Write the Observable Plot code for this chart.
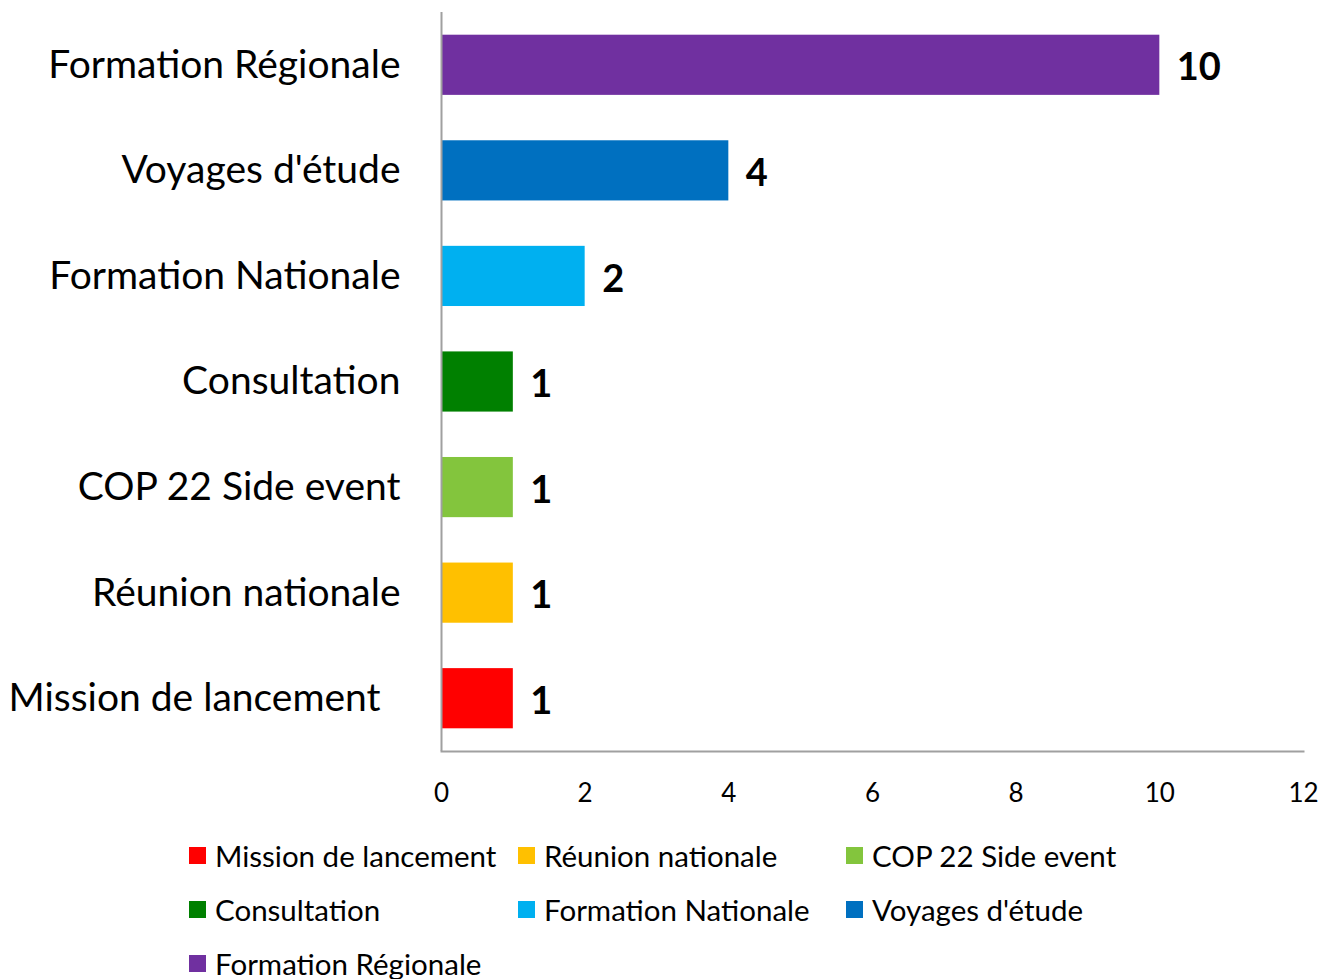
<!DOCTYPE html>
<html>
<head>
<meta charset="utf-8">
<script src="https://cdn.jsdelivr.net/npm/d3@7"></script>
<script src="https://cdn.jsdelivr.net/npm/@observablehq/plot@0.6"></script>
<style>
  body { margin: 0; background: #fff; font-family: Lato, "Open Sans", sans-serif; }
  #chart svg { display: block; }
  #legend { position: relative; margin-left: 189px; width: 1000px; display: grid; grid-template-columns: 329px 328px 300px; margin-top: 13px; }
  .item { display: flex; align-items: center; height: 54px; font-size: 29.5px; color: #000; white-space: nowrap; }
  .sw { width: 17px; height: 17px; margin-right: 9px; flex: none; }
</style>
</head>
<body>
<div id="chart"></div>
<div id="legend"></div>
<script>
const categories = ["Formation Régionale", "Voyages d'étude", "Formation Nationale", "Consultation", "COP 22 Side event", "Réunion nationale", "Mission de lancement"];
const values = [10, 4, 2, 1, 1, 1, 1];
const colors = ["#7030A0", "#0070C0", "#00B0F0", "#008000", "#83C53D", "#FFC000", "#FF0000"];
const legendOrder = ["Mission de lancement", "Réunion nationale", "COP 22 Side event", "Consultation", "Formation Nationale", "Voyages d'étude", "Formation Régionale"];
const xTicks = [0, 2, 4, 6, 8, 10, 12];

const data = categories.map((c, i) => ({category: c, value: values[i]}));
const colorOf = Object.fromEntries(categories.map((c, i) => [c, colors[i]]));

const chart = Plot.plot({
  width: 1323,
  height: 815,
  marginLeft: 441,
  marginRight: 20,
  marginTop: 12,
  marginBottom: 64,
  style: {fontFamily: "Lato, 'Open Sans', sans-serif", background: "#fff"},
  x: {domain: [0, 12], ticks: xTicks, label: null},
  y: {domain: categories, paddingInner: 0.43, paddingOuter: 0.215, round: false, label: null},
  color: {domain: categories, range: colors},
  marks: [
    Plot.barX(data, {x: "value", y: "category", fill: "category"}),
    Plot.ruleX([0], {stroke: "#a0a0a0", strokeWidth: 2}),
    Plot.frame({anchor: "bottom", stroke: "#a0a0a0", strokeWidth: 2}),
    Plot.text(data, {x: "value", y: "category", text: d => String(d.value), textAnchor: "start", dx: 17, dy: 3, fontSize: 38, fontWeight: "bold", fill: "#000"}),
    Plot.axisX({ticks: xTicks, tickSize: 0, tickPadding: 32, fontSize: 26, label: null, color: "#000"}),
    Plot.axisY({tickSize: 0, tickPadding: 41, fontSize: 39, label: null, color: "#000",
      tickFormat: d => d === "Mission de lancement" ? "Mission de lancement\u00a0\u00a0" : d})
  ]
});
document.getElementById("chart").appendChild(chart);

const legend = document.getElementById("legend");
legendOrder.forEach(c => {
  const it = document.createElement("div");
  it.className = "item";
  const sw = document.createElement("span");
  sw.className = "sw";
  sw.style.background = colorOf[c];
  const t = document.createElement("span");
  t.textContent = c;
  it.appendChild(sw);
  it.appendChild(t);
  legend.appendChild(it);
});
</script>
</body>
</html>
